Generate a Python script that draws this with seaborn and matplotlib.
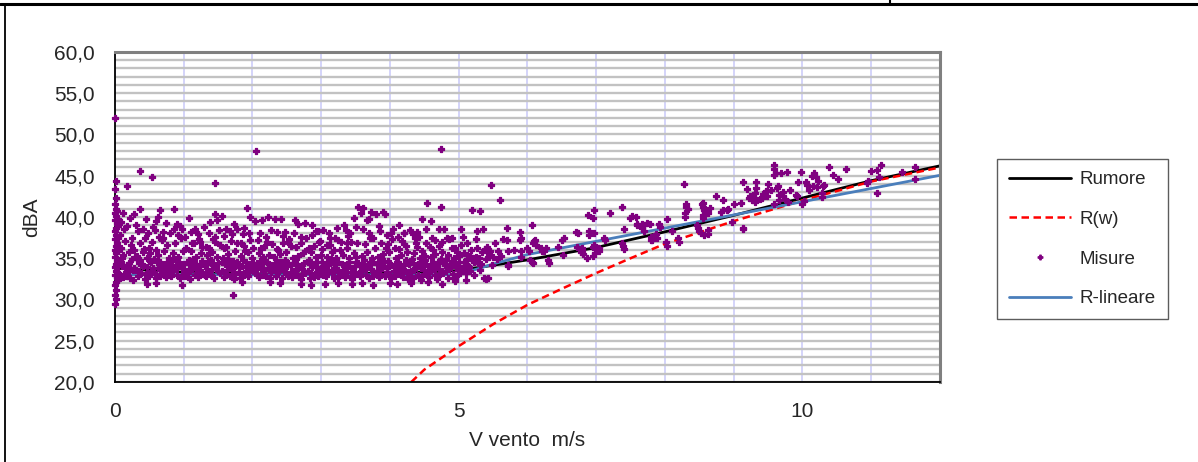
import numpy as np
import pandas as pd
import seaborn as sns
import matplotlib.pyplot as plt
from matplotlib.ticker import MultipleLocator, FuncFormatter
from matplotlib.lines import Line2D

# Rumore di fondo in funzione della velocita' del vento

# curve
rumore_x = [0, 1, 2, 3, 4, 5, 6, 7, 8, 9, 10, 11, 12]
rumore_y = [33.8, 33.3, 33.1, 33.1, 33.2, 33.5, 34.8, 36.3, 38.2, 40.2, 42.3, 44.4, 46.2]

rw_x = [4.31, 4.5, 5, 5.5, 6, 6.5, 7, 7.5, 8, 9, 10, 11, 12]
rw_y = [20.0, 21.5, 24.35, 27.0, 29.35, 31.3, 33.2, 35.0, 36.75, 39.5, 42.0, 44.3, 46.0]

lineare_x = [0, 5, 5.5, 6, 12]
lineare_y = [33.0, 33.0, 34.3, 35.45, 45.05]

# misure [v vento, dBA]
colonna_zero = [
    [0.0, 52.0], [0.01, 44.4], [0.0, 43.4], [0.02, 42.3], [0.0, 41.6], [0.01, 41.0], [0.0, 40.5],
    [0.02, 40.1], [0.0, 39.6], [0.03, 39.2], [0.01, 38.7], [0.0, 38.3], [0.02, 37.8], [0.0, 37.3],
    [0.03, 36.9], [0.01, 36.5], [0.0, 36.0], [0.02, 35.6], [0.0, 35.1], [0.03, 34.7], [0.01, 34.3],
    [0.0, 33.9], [0.02, 33.4], [0.0, 33.0], [0.03, 32.6], [0.01, 32.1], [0.0, 31.7], [0.02, 31.2],
    [0.0, 30.6], [0.01, 30.1], [0.0, 29.5], [0.04, 37.5], [0.04, 35.9], [0.05, 34.0], [0.04, 38.9],
    [0.05, 36.4], [0.04, 33.2], [0.05, 32.4], [0.03, 40.7], [0.05, 39.8],
]

banda = [
    [0.06, 33.1], [0.08, 34.6], [0.09, 36.2], [0.11, 32.7], [0.12, 35.4], [0.14, 33.9], [0.15, 37.1],
    [0.17, 34.2], [0.18, 32.9], [0.20, 35.8], [0.21, 33.5], [0.23, 36.6], [0.24, 34.9], [0.26, 32.4],
    [0.27, 33.8], [0.29, 35.1], [0.07, 37.8], [0.13, 38.6], [0.19, 34.0], [0.22, 32.6], [0.25, 37.5],
    [0.28, 36.0], [0.10, 35.0], [0.16, 33.3],
    [0.31, 33.6], [0.32, 35.3], [0.34, 32.8], [0.35, 34.4], [0.37, 36.8], [0.38, 33.2], [0.40, 35.7],
    [0.41, 34.0], [0.43, 32.5], [0.44, 37.4], [0.46, 33.9], [0.47, 35.0], [0.49, 36.3], [0.50, 32.9],
    [0.52, 34.6], [0.53, 33.4], [0.33, 38.3], [0.42, 36.1], [0.48, 38.0], [0.36, 34.8], [0.51, 35.6],
    [0.54, 37.0],
    [0.56, 33.3], [0.57, 34.9], [0.59, 32.6], [0.60, 36.0], [0.62, 33.8], [0.63, 35.4], [0.65, 34.3],
    [0.66, 32.9], [0.68, 37.2], [0.69, 33.5], [0.71, 35.9], [0.72, 34.1], [0.74, 32.7], [0.75, 36.6],
    [0.77, 33.7], [0.78, 35.0], [0.58, 38.4], [0.64, 37.6], [0.70, 38.2], [0.76, 34.6], [0.61, 34.5],
    [0.79, 33.1],
    [0.81, 34.2], [0.82, 32.8], [0.84, 35.6], [0.85, 33.5], [0.87, 36.9], [0.88, 34.0], [0.90, 33.0],
    [0.91, 35.2], [0.93, 34.5], [0.94, 32.6], [0.96, 37.5], [0.97, 33.8], [0.99, 35.9], [1.00, 34.3],
    [1.02, 32.9], [1.03, 36.3], [0.86, 38.5], [0.92, 37.8], [0.98, 38.6], [1.04, 33.4], [0.83, 34.7],
    [1.06, 33.2], [1.07, 34.8], [1.09, 32.5], [1.10, 35.9], [1.12, 33.7], [1.13, 34.4], [1.15, 36.8],
    [1.16, 33.0], [1.18, 35.2], [1.19, 34.0], [1.21, 32.7], [1.22, 37.3], [1.24, 33.6], [1.25, 35.6],
    [1.27, 34.7], [1.28, 33.1], [1.11, 38.2], [1.20, 37.9], [1.26, 36.4], [1.14, 34.9],
    [1.31, 34.1], [1.32, 32.8], [1.34, 35.4], [1.35, 33.5], [1.37, 36.2], [1.38, 34.6], [1.40, 33.0],
    [1.41, 35.8], [1.43, 34.2], [1.44, 32.6], [1.46, 37.0], [1.47, 33.9], [1.49, 35.1], [1.50, 34.4],
    [1.52, 33.2], [1.53, 36.6], [1.36, 38.0], [1.45, 37.6], [1.51, 38.4], [1.39, 34.8],
    [1.56, 33.4], [1.57, 35.0], [1.59, 32.7], [1.60, 34.3], [1.62, 36.4], [1.63, 33.6], [1.65, 35.5],
    [1.66, 34.0], [1.68, 32.9], [1.69, 37.1], [1.71, 33.8], [1.72, 34.7], [1.74, 35.9], [1.75, 33.1],
    [1.77, 34.5], [1.78, 36.8], [1.58, 37.7], [1.67, 38.3], [1.73, 32.5], [1.64, 34.9],
    [1.81, 33.9], [1.82, 32.6], [1.84, 35.3], [1.85, 34.1], [1.87, 33.0], [1.88, 36.5], [1.90, 34.6],
    [1.91, 33.4], [1.93, 35.7], [1.94, 32.8], [1.96, 34.3], [1.97, 37.2], [1.99, 33.6], [2.00, 35.0],
    [2.02, 34.0], [2.03, 33.2], [1.86, 37.9], [1.95, 38.1], [2.01, 36.2], [1.89, 35.9],
    [2.06, 34.4], [2.07, 33.1], [2.09, 35.6], [2.10, 32.7], [2.12, 34.0], [2.13, 36.3], [2.15, 33.5],
    [2.16, 35.1], [2.18, 34.7], [2.19, 32.9], [2.21, 37.0], [2.22, 33.8], [2.24, 35.4], [2.25, 34.2],
    [2.27, 33.3], [2.28, 36.7], [2.11, 38.0], [2.20, 37.6], [2.26, 32.6], [2.14, 34.9],
    [2.31, 33.7], [2.32, 35.2], [2.34, 32.8], [2.35, 34.5], [2.37, 36.0], [2.38, 33.4], [2.40, 35.5],
    [2.41, 34.1], [2.43, 32.6], [2.44, 36.9], [2.46, 33.9], [2.47, 34.8], [2.49, 35.8], [2.50, 33.1],
    [2.52, 34.4], [2.53, 37.3], [2.36, 38.2], [2.45, 37.7], [2.51, 32.9], [2.39, 34.0],
    [2.56, 34.2], [2.57, 32.7], [2.59, 35.0], [2.60, 33.5], [2.62, 34.6], [2.63, 36.4], [2.65, 33.0],
    [2.66, 35.3], [2.68, 34.0], [2.69, 32.8], [2.71, 36.8], [2.72, 33.7], [2.74, 35.6], [2.75, 34.4],
    [2.77, 33.2], [2.78, 37.4], [2.61, 38.0], [2.70, 32.5], [2.76, 35.9], [2.64, 34.9],
    [2.81, 33.4], [2.82, 34.8], [2.84, 32.6], [2.85, 35.7], [2.87, 33.9], [2.88, 34.3], [2.90, 36.5],
    [2.91, 33.1], [2.93, 35.1], [2.94, 34.6], [2.96, 32.9], [2.97, 37.0], [2.99, 33.6], [3.00, 35.4],
    [3.02, 34.1], [3.03, 33.0], [2.86, 37.8], [2.95, 38.3], [3.01, 36.1], [2.89, 32.7],
    [3.06, 34.0], [3.07, 32.8], [3.09, 35.2], [3.10, 33.5], [3.12, 34.7], [3.13, 36.6], [3.15, 33.2],
    [3.16, 35.8], [3.18, 34.3], [3.19, 32.6], [3.21, 35.0], [3.22, 33.8], [3.24, 37.2], [3.25, 34.5],
    [3.27, 33.0], [3.28, 36.0], [3.11, 38.1], [3.20, 37.5], [3.26, 32.9], [3.14, 34.9],
    [3.31, 33.6], [3.32, 35.4], [3.34, 32.7], [3.35, 34.2], [3.37, 36.3], [3.38, 33.3], [3.40, 35.0],
    [3.41, 34.6], [3.43, 32.9], [3.44, 37.0], [3.46, 33.8], [3.47, 35.6], [3.49, 34.0], [3.50, 33.1],
    [3.52, 36.8], [3.53, 34.4], [3.36, 38.4], [3.45, 32.5], [3.51, 35.2], [3.39, 37.7],
    [3.56, 34.1], [3.57, 32.8], [3.59, 35.3], [3.60, 33.4], [3.62, 34.8], [3.63, 36.7], [3.65, 33.0],
    [3.66, 35.7], [3.68, 34.3], [3.69, 32.6], [3.71, 37.4], [3.72, 33.7], [3.74, 35.0], [3.75, 34.5],
    [3.77, 33.2], [3.78, 36.2], [3.61, 38.6], [3.70, 38.0], [3.76, 32.9], [3.64, 34.0],
    [3.81, 33.5], [3.82, 35.1], [3.84, 32.7], [3.85, 34.4], [3.87, 36.9], [3.88, 33.8], [3.90, 35.5],
    [3.91, 34.0], [3.93, 32.9], [3.94, 36.3], [3.96, 33.3], [3.97, 34.7], [3.99, 35.8], [4.00, 33.0],
    [4.02, 34.2], [4.03, 37.3], [3.86, 38.3], [3.95, 37.8], [4.01, 32.6], [3.89, 34.9],
    [4.06, 34.1], [4.07, 32.8], [4.09, 35.0], [4.10, 33.6], [4.12, 34.5], [4.13, 36.1], [4.15, 33.1],
    [4.16, 35.4], [4.18, 34.0], [4.19, 32.7], [4.21, 36.7], [4.22, 33.5], [4.24, 34.8], [4.25, 35.7],
    [4.27, 33.0], [4.28, 34.3], [4.11, 37.6], [4.20, 38.1], [4.26, 32.5], [4.14, 33.9],
    [4.31, 33.4], [4.32, 34.9], [4.34, 32.6], [4.35, 35.6], [4.37, 33.8], [4.38, 34.2], [4.40, 36.4],
    [4.41, 33.0], [4.43, 35.0], [4.44, 34.6], [4.46, 32.8], [4.47, 35.9], [4.49, 33.6], [4.50, 34.4],
    [4.52, 33.1], [4.53, 36.9], [4.36, 37.5], [4.45, 32.4], [4.51, 35.3], [4.39, 38.2],
    [4.56, 34.0], [4.57, 32.7], [4.59, 35.2], [4.60, 33.4], [4.62, 34.6], [4.63, 36.0], [4.65, 33.0],
    [4.66, 35.5], [4.68, 34.2], [4.69, 32.5], [4.71, 36.5], [4.72, 33.7], [4.74, 34.9], [4.75, 35.8],
    [4.77, 33.2], [4.78, 34.4], [4.61, 37.4], [4.70, 32.9], [4.76, 37.0], [4.64, 33.8],
    [4.81, 33.5], [4.82, 34.8], [4.84, 32.6], [4.85, 35.4], [4.87, 33.9], [4.88, 34.3], [4.90, 36.2],
    [4.91, 33.1], [4.93, 35.0], [4.94, 34.5], [4.96, 32.8], [4.97, 35.7], [4.99, 33.6], [5.00, 34.1],
    [5.02, 33.2], [5.03, 36.6], [4.86, 37.3], [4.95, 32.5], [5.01, 35.3], [4.89, 34.0],
    [5.06, 33.8], [5.08, 34.6], [5.10, 33.2], [5.12, 35.4], [5.14, 34.1], [5.16, 33.5], [5.18, 36.0],
    [5.20, 34.8], [5.22, 33.0], [5.25, 35.2], [5.28, 34.4], [5.31, 33.6], [5.34, 35.8], [5.37, 32.6],
    [5.40, 34.9], [5.44, 35.5], [5.48, 34.2], [5.07, 35.6], [5.12, 34.9], [5.17, 35.3], [5.22, 34.5],
    [5.27, 36.2], [5.30, 35.0], [5.33, 34.3], [5.38, 36.1], [5.45, 35.9], [5.50, 35.2],
]

# nucleo piu' fitto della nuvola
banda_fitta = [
    [0.105, 34.1], [0.165, 32.9], [0.205, 34.4], [0.255, 33.6], [0.315, 34.9], [0.355, 33.4],
    [0.395, 34.3], [0.455, 33.1], [0.505, 34.7], [0.555, 33.8], [0.605, 32.9], [0.655, 34.6],
    [0.705, 33.3], [0.755, 34.1], [0.805, 33.6], [0.855, 34.9], [0.905, 33.8], [0.955, 34.2],
    [1.005, 33.2], [1.055, 34.5], [1.105, 33.9], [1.155, 34.6], [1.205, 33.4], [1.255, 34.3],
    [1.305, 33.0], [1.355, 34.7], [1.405, 33.7], [1.455, 34.1], [1.505, 33.5], [1.555, 34.6],
    [1.605, 33.2], [1.655, 34.4], [1.705, 33.6], [1.755, 34.2], [1.805, 33.3], [1.855, 34.8],
    [1.905, 33.9], [1.955, 33.5], [2.005, 34.4], [2.055, 33.7], [2.105, 34.3], [2.155, 33.0],
    [2.205, 34.5], [2.255, 33.6], [2.305, 34.2], [2.355, 33.3], [2.405, 34.6], [2.455, 33.5],
    [2.505, 34.0], [2.555, 33.3], [2.605, 34.4], [2.655, 33.8], [2.705, 34.1], [2.755, 33.4],
    [2.805, 34.6], [2.855, 33.2], [2.905, 34.2], [2.955, 33.7], [3.005, 34.5], [3.055, 33.4],
    [3.105, 34.2], [3.155, 33.6], [3.205, 34.5], [3.255, 33.3], [3.305, 34.3], [3.355, 33.8],
    [3.405, 34.1], [3.455, 33.4], [3.505, 34.6], [3.555, 33.2], [3.605, 34.2], [3.655, 33.7],
    [3.705, 34.4], [3.755, 33.5], [3.805, 34.3], [3.855, 33.1], [3.905, 34.6], [3.955, 33.8],
    [4.005, 34.2], [4.055, 33.4], [4.105, 34.6], [4.155, 33.7], [4.205, 34.2], [4.255, 33.3],
    [4.305, 34.5], [4.355, 33.6], [4.405, 34.2], [4.455, 33.8], [4.505, 34.8], [4.555, 33.4],
    [4.605, 34.3], [4.655, 33.7], [4.705, 34.5], [4.755, 33.4], [4.805, 34.2], [4.855, 33.7],
    [4.905, 34.7], [4.955, 33.9], [5.005, 34.6], [5.055, 33.5], [5.105, 34.3], [5.155, 33.9],
    [5.205, 35.0],
]

alto = [
    [0.08, 39.4], [0.12, 40.5], [0.18, 38.9], [0.22, 39.9], [0.27, 40.4], [0.31, 39.0], [0.36, 41.0],
    [0.40, 38.6], [0.45, 39.7], [0.55, 38.8], [0.60, 39.5], [0.65, 40.8], [0.63, 40.0], [0.70, 37.4],
    [0.74, 39.3], [0.80, 38.0], [0.86, 41.0], [0.90, 39.1], [0.95, 38.9], [1.02, 37.6],
    [1.08, 39.9], [1.12, 36.9], [1.17, 38.5], [1.23, 37.0], [1.29, 38.8], [1.33, 36.4], [1.38, 39.4],
    [1.42, 37.3], [1.46, 40.4], [1.48, 39.6], [1.55, 40.1], [1.58, 36.2], [1.62, 38.6], [1.70, 37.9],
    [1.73, 39.2], [1.77, 38.5], [1.83, 36.9], [1.88, 38.7], [1.92, 41.1], [1.96, 40.0],
    [2.04, 39.5], [2.08, 37.2], [2.14, 39.6], [2.17, 36.4], [2.23, 40.0], [2.27, 38.4], [2.33, 39.7],
    [2.36, 36.1], [2.42, 39.8], [2.47, 38.2], [2.52, 37.0], [2.56, 36.5], [2.62, 39.6], [2.66, 39.1],
    [2.70, 37.6], [2.77, 39.3], [2.82, 36.3], [2.86, 39.0], [2.92, 38.3], [2.98, 37.1],
    [3.03, 38.4], [3.08, 36.6], [3.13, 37.4], [3.18, 36.0], [3.23, 38.7], [3.29, 37.0], [3.33, 39.0],
    [3.37, 36.8], [3.42, 38.0], [3.47, 39.9], [3.50, 38.8], [3.54, 41.2], [3.58, 40.5], [3.61, 41.1],
    [3.66, 39.6], [3.70, 39.8], [3.72, 40.6], [3.76, 37.5], [3.80, 40.4], [3.84, 38.9],
    [3.90, 40.6], [3.93, 40.4], [3.97, 36.7], [4.02, 38.1], [4.05, 38.5], [4.08, 36.3], [4.13, 39.0],
    [4.17, 37.1], [4.20, 38.0], [4.24, 36.5], [4.29, 38.4], [4.33, 37.9], [4.38, 36.8], [4.42, 37.6],
    [4.47, 39.8], [4.52, 38.5], [4.54, 41.7], [4.58, 36.4], [4.60, 39.5], [4.66, 37.2],
    [4.72, 38.6], [4.74, 41.2], [4.79, 38.6], [4.83, 37.5], [4.90, 37.5], [4.94, 36.3], [5.04, 38.6],
    [5.06, 37.6], [5.12, 36.8], [5.19, 40.9], [5.25, 37.3], [5.26, 38.3], [5.31, 40.7], [5.36, 38.5],
    [5.41, 36.4], [5.47, 43.9], [5.53, 36.9], [5.60, 42.1], [5.65, 37.3], [5.70, 38.7],
    [0.36, 45.6], [0.54, 44.8], [0.17, 43.8], [1.46, 44.1], [2.05, 48.0], [4.74, 48.2], [1.71, 30.6],
]

bordo_basso = [
    [0.46, 31.9], [0.60, 32.0], [0.98, 31.8], [1.85, 32.1], [2.25, 32.1], [2.40, 32.0], [2.70, 31.9],
    [2.85, 31.8], [3.05, 31.9], [3.25, 32.0], [3.45, 31.9], [3.60, 32.0], [3.75, 31.8], [4.00, 32.0],
    [4.10, 31.9], [4.30, 32.0], [4.55, 32.1], [4.75, 31.9], [4.95, 32.2], [5.10, 32.4], [5.40, 32.5],
]

destra = [
    [5.43, 32.6], [5.44, 35.1], [5.55, 34.9], [5.57, 35.9], [5.61, 35.3], [5.70, 37.2], [5.71, 34.2],
    [5.72, 34.1], [5.71, 35.9], [5.81, 36.0], [5.89, 38.2], [5.89, 37.2], [5.90, 35.9], [5.90, 35.1],
    [5.91, 37.5], [6.02, 35.9], [6.00, 36.2], [6.03, 34.8], [6.06, 34.5], [6.07, 39.0], [6.08, 36.8],
    [6.08, 34.4], [6.09, 37.1], [6.10, 37.0], [6.11, 37.2], [6.12, 36.6], [6.20, 36.2], [6.21, 35.9],
    [6.24, 35.9], [6.27, 36.2], [6.30, 34.8], [6.31, 34.4],
    [6.45, 36.4], [6.50, 37.2], [6.53, 37.5], [6.52, 35.4], [6.70, 38.2], [6.73, 38.0], [6.72, 36.4],
    [6.78, 35.7], [6.79, 36.3], [6.81, 35.5], [6.80, 35.9], [6.87, 35.0], [6.88, 40.2], [6.89, 38.3],
    [6.89, 37.8], [6.95, 39.9], [6.95, 35.3], [6.96, 36.4], [6.97, 40.9], [6.97, 38.0], [6.97, 36.6],
    [6.98, 35.6], [7.03, 36.3], [7.04, 35.9], [7.04, 36.2], [7.12, 37.5], [7.13, 37.2], [7.20, 40.5],
    [7.38, 41.2], [7.39, 36.5], [7.38, 36.8], [7.41, 38.5], [7.41, 36.1], [7.49, 39.9], [7.52, 40.1],
    [7.58, 40.0], [7.59, 39.2], [7.60, 39.0], [7.66, 39.1], [7.67, 38.7], [7.70, 39.0], [7.70, 38.3],
    [7.74, 39.3], [7.78, 39.1], [7.79, 37.2], [7.81, 37.2], [7.80, 37.6], [7.87, 37.9], [7.89, 37.5],
    [7.93, 38.8], [7.92, 39.1], [8.02, 37.0], [8.03, 39.7], [8.03, 36.5], [8.10, 38.3], [8.19, 37.5],
    [8.21, 37.0], [8.27, 44.0], [8.29, 40.5], [8.29, 40.0], [8.31, 41.2], [8.33, 41.0], [8.30, 41.6],
    [8.46, 39.0], [8.48, 38.7], [8.50, 38.3], [8.52, 38.0], [8.55, 41.7], [8.54, 41.6], [8.56, 41.2],
    [8.57, 40.8], [8.58, 40.6], [8.55, 40.3], [8.56, 39.9], [8.57, 37.8], [8.62, 37.9], [8.62, 40.5],
    [8.63, 38.4], [8.66, 41.1], [8.74, 42.6], [8.82, 40.6], [8.85, 42.1], [8.85, 40.8], [8.90, 40.8],
    [8.92, 41.0], [8.97, 39.4], [9.01, 41.6], [9.10, 41.7], [9.13, 38.7], [9.13, 44.2], [9.14, 38.6],
    [9.20, 43.4], [9.22, 42.3], [9.23, 42.6],
    [9.26, 42.1], [9.31, 42.3], [9.31, 41.8], [9.33, 44.3], [9.33, 43.5], [9.31, 42.9], [9.38, 42.2],
    [9.41, 42.3], [9.42, 42.8], [9.47, 43.1], [9.49, 43.2], [9.49, 42.6], [9.50, 44.0], [9.54, 43.3],
    [9.58, 45.1], [9.59, 46.3], [9.59, 45.8], [9.59, 41.6], [9.61, 45.3], [9.63, 43.5], [9.64, 43.7],
    [9.66, 42.7], [9.66, 42.0], [9.69, 45.3], [9.71, 42.6], [9.72, 43.0], [9.75, 42.2], [9.78, 45.4],
    [9.79, 41.8], [9.82, 43.3], [9.90, 42.7], [9.92, 42.5], [9.94, 44.2], [9.98, 45.4], [9.99, 41.6],
    [10.02, 41.9], [10.05, 44.3], [10.07, 43.9], [10.10, 43.3], [10.14, 45.0], [10.15, 43.7],
    [10.17, 45.3], [10.20, 44.9], [10.21, 43.6], [10.23, 44.4], [10.28, 42.9], [10.29, 42.4],
    [10.30, 43.7], [10.31, 43.9], [10.39, 46.0], [10.44, 45.1], [10.51, 44.6], [10.63, 45.8],
    [10.94, 44.1], [10.95, 44.4], [10.99, 45.6], [11.09, 45.7], [11.09, 42.9], [11.12, 44.9],
    [11.14, 46.3], [11.45, 45.5], [11.63, 46.1], [11.63, 44.6],
]

etichette = ["Rumore", "R(w)", "Misure", "R-lineare"]

misure = np.array(colonna_zero + banda + banda_fitta + alto + bordo_basso + destra)
df_mis = pd.DataFrame({"v": misure[:, 0], "dba": misure[:, 1]})

sns.set_style("white")
plt.rcParams['font.family'] = ['Liberation Sans', 'DejaVu Sans']

fig = plt.figure(figsize=(11.98, 4.62), dpi=100)
ax = fig.add_axes([0.096, 0.1732, 0.6886, 0.7143])

# curve
sns.lineplot(x=rumore_x, y=rumore_y, color="black", lw=2.0, ax=ax, zorder=2,
             sort=False, estimator=None)
sns.lineplot(x=rw_x, y=rw_y, color="#ff0000", lw=1.8, linestyle=(0, (3, 1.8)), ax=ax,
             zorder=2, sort=False, estimator=None)
sns.lineplot(x=lineare_x, y=lineare_y, color="#4a7ebb", lw=2.0, ax=ax, zorder=2.2,
             sort=False, estimator=None)

# misure
sns.scatterplot(data=df_mis, x="v", y="dba", marker="P", s=14, color="#800080",
                edgecolor="#800080", linewidth=0.9, ax=ax, zorder=3, clip_on=False,
                legend=False)

ax.set_xlim(0, 12)
ax.set_ylim(20, 60)

ax.set_xticks([0, 5, 10])
ax.xaxis.set_minor_locator(MultipleLocator(1))
ax.set_yticks(range(20, 61, 5))
ax.yaxis.set_minor_locator(MultipleLocator(1))
ax.yaxis.set_major_formatter(FuncFormatter(lambda v, p: f"{v:.1f}".replace(".", ",")))

ax.set_axisbelow(True)
ax.grid(True, which="both", axis="y", color="#c2c2c2", lw=1.7)
ax.grid(True, which="both", axis="x", color="#d4d4fa", lw=1.4)

ax.tick_params(axis="both", which="major", direction="inout", length=11, width=1.3,
               color="black", labelsize=15, pad=9)
ax.tick_params(axis="both", which="minor", direction="inout", length=8, width=1.1,
               color="black")

for lato in ["top", "right"]:
    ax.spines[lato].set_color("#808080")
    ax.spines[lato].set_linewidth(2.2)
for lato in ["left", "bottom"]:
    ax.spines[lato].set_color("black")
    ax.spines[lato].set_linewidth(1.3)

ax.set_xlabel("V vento  m/s", fontsize=15)
ax.set_ylabel("dBA", fontsize=15)
ax.xaxis.set_label_coords(0.5, -0.15)
ax.yaxis.set_label_coords(-0.09, 0.5)

# legenda
maniglie = [
    Line2D([], [], color="black", lw=2.0),
    Line2D([], [], color="#ff0000", lw=1.8, ls=(0, (3, 1.8))),
    Line2D([], [], color="#800080", marker="P", ms=3.5, mew=0.8, mec="#800080", lw=0),
    Line2D([], [], color="#4a7ebb", lw=2.0),
]
leg = fig.legend(maniglie, etichette, loc="upper left", bbox_to_anchor=(0.8322, 0.6558),
                 frameon=True, fancybox=False, edgecolor="#333333", fontsize=13.5,
                 handlelength=3.3, handletextpad=0.45, labelspacing=1.2,
                 borderpad=0.65, borderaxespad=0)
leg.get_frame().set_linewidth(1.0)

# bordo della cella
fig.add_artist(Line2D([0, 1], [0.9924, 0.9924], transform=fig.transFigure,
                      color="black", lw=2.2))
fig.add_artist(Line2D([0.0038, 0.0038], [0, 0.9924], transform=fig.transFigure,
                      color="black", lw=1.3))
fig.add_artist(Line2D([0.743, 0.743], [0.9924, 1], transform=fig.transFigure,
                      color="black", lw=1.5))

fig.savefig("out.png", dpi=100)
